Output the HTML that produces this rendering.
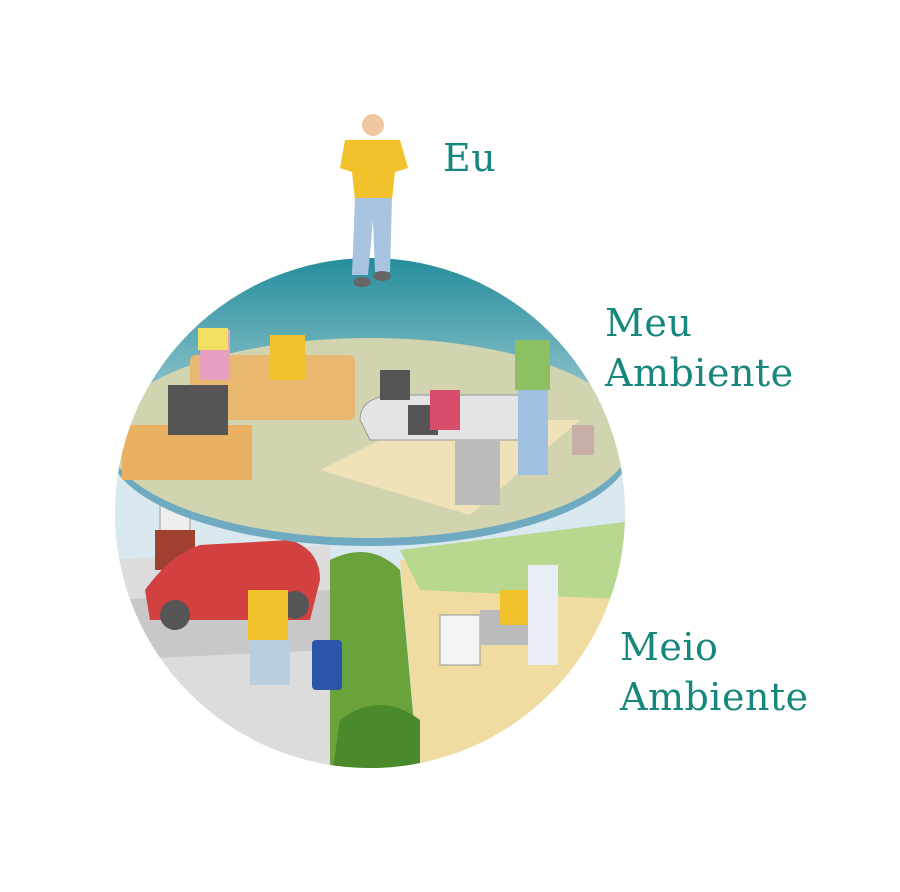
<!DOCTYPE html>
<html><head><meta charset="utf-8"><style>
html,body{margin:0;padding:0;background:#fff;width:900px;height:892px;overflow:hidden}
.t{position:absolute;font-family:"DejaVu Serif","Liberation Serif",serif;color:#16877c;font-size:38px;line-height:50px;letter-spacing:0.5px}
</style></head><body>
<svg width="900" height="892" style="position:absolute;left:0;top:0">
<defs>
<linearGradient id="sky" x1="0" y1="0" x2="0" y2="1"><stop offset="0" stop-color="#1f8a99"/><stop offset="0.55" stop-color="#9ccbd2"/><stop offset="1" stop-color="#d6e6e2"/></linearGradient>
<clipPath id="c"><circle cx="370" cy="513" r="255"/></clipPath>
</defs>
<g clip-path="url(#c)">
<rect x="100" y="250" width="540" height="300" fill="url(#sky)"/>
<rect x="100" y="470" width="540" height="320" fill="#d9e9ef"/>
<polygon points="110,560 330,545 340,790 110,790" fill="#dcdcdc"/>
<polygon points="110,600 330,590 330,650 110,660" fill="#c8c8c8"/>
<polygon points="400,560 640,540 640,790 420,790" fill="#f0dca0"/>
<polygon points="400,550 640,520 640,600 420,590" fill="#b8d890"/>
<path d="M330,560 Q370,540 400,570 L420,790 L330,790 Z" fill="#6aa23c"/>
<rect x="160" y="505" width="30" height="40" fill="#eee" stroke="#999"/>
<rect x="155" y="530" width="40" height="40" fill="#a04030"/>
<path d="M145,590 Q170,555 200,545 L290,540 Q320,550 320,580 L310,620 L150,620 Z" fill="#d24040"/>
<circle cx="175" cy="615" r="15" fill="#555"/><circle cx="295" cy="605" r="14" fill="#555"/>
<rect x="248" y="590" width="40" height="50" fill="#f2c22c"/>
<rect x="250" y="640" width="40" height="45" fill="#b8cfe0"/>
<rect x="312" y="640" width="30" height="50" fill="#2a55a8" rx="4"/>
<rect x="440" y="615" width="40" height="50" fill="#f4f4f4" stroke="#999"/>
<rect x="480" y="610" width="50" height="35" fill="#bbb"/>
<rect x="500" y="590" width="30" height="35" fill="#f2c22c"/>
<rect x="528" y="565" width="30" height="100" fill="#e8eef4"/>
<path d="M340,720 Q380,690 420,720 L420,790 L330,790 Z" fill="#4b8a2c"/>
<ellipse cx="370" cy="446" rx="262" ry="100" fill="#6faac0"/>
<ellipse cx="370" cy="438" rx="262" ry="100" fill="#d2d4b0"/>
<polygon points="320,470 420,420 580,420 470,515" fill="#efe2b8"/>
<rect x="190" y="355" width="165" height="65" fill="#e8b870" rx="6"/>
<rect x="200" y="330" width="30" height="50" fill="#e8a0c0"/>
<rect x="270" y="335" width="35" height="45" fill="#f2c22c"/>
<rect x="122" y="425" width="130" height="55" fill="#e8b060"/>
<rect x="168" y="385" width="60" height="50" fill="#555"/>
<rect x="198" y="328" width="30" height="22" fill="#f4e060"/>
<path d="M360,420 Q360,395 400,395 L530,395 L520,440 L370,440 Z" fill="#e4e4e4" stroke="#999"/>
<rect x="380" y="370" width="30" height="30" fill="#555"/>
<rect x="408" y="405" width="30" height="30" fill="#555"/>
<rect x="430" y="390" width="30" height="40" fill="#d84c6c"/>
<rect x="455" y="440" width="45" height="65" fill="#bbb"/>
<rect x="515" y="340" width="35" height="50" fill="#8cc060"/>
<rect x="518" y="390" width="30" height="85" fill="#a0c0e0"/>
<rect x="572" y="425" width="22" height="30" fill="#c8b0a8"/>
</g>
<circle cx="373" cy="125" r="11" fill="#f0c8a0"/>
<path d="M345,140 L400,140 L408,168 L395,172 L392,200 L355,200 L352,172 L340,168 Z" fill="#f2c22c"/>
<path d="M355,198 L392,198 L390,272 L375,272 L373,220 L368,275 L352,275 Z" fill="#a8c4e0"/>
<ellipse cx="362" cy="282" rx="9" ry="5" fill="#666"/><ellipse cx="382" cy="276" rx="9" ry="5" fill="#666"/>
</svg>
<div class="t" style="left:443px;top:133px">Eu</div>
<div class="t" style="left:605px;top:298px">Meu<br>Ambiente</div>
<div class="t" style="left:620px;top:622px">Meio<br>Ambiente</div>
</body></html>
